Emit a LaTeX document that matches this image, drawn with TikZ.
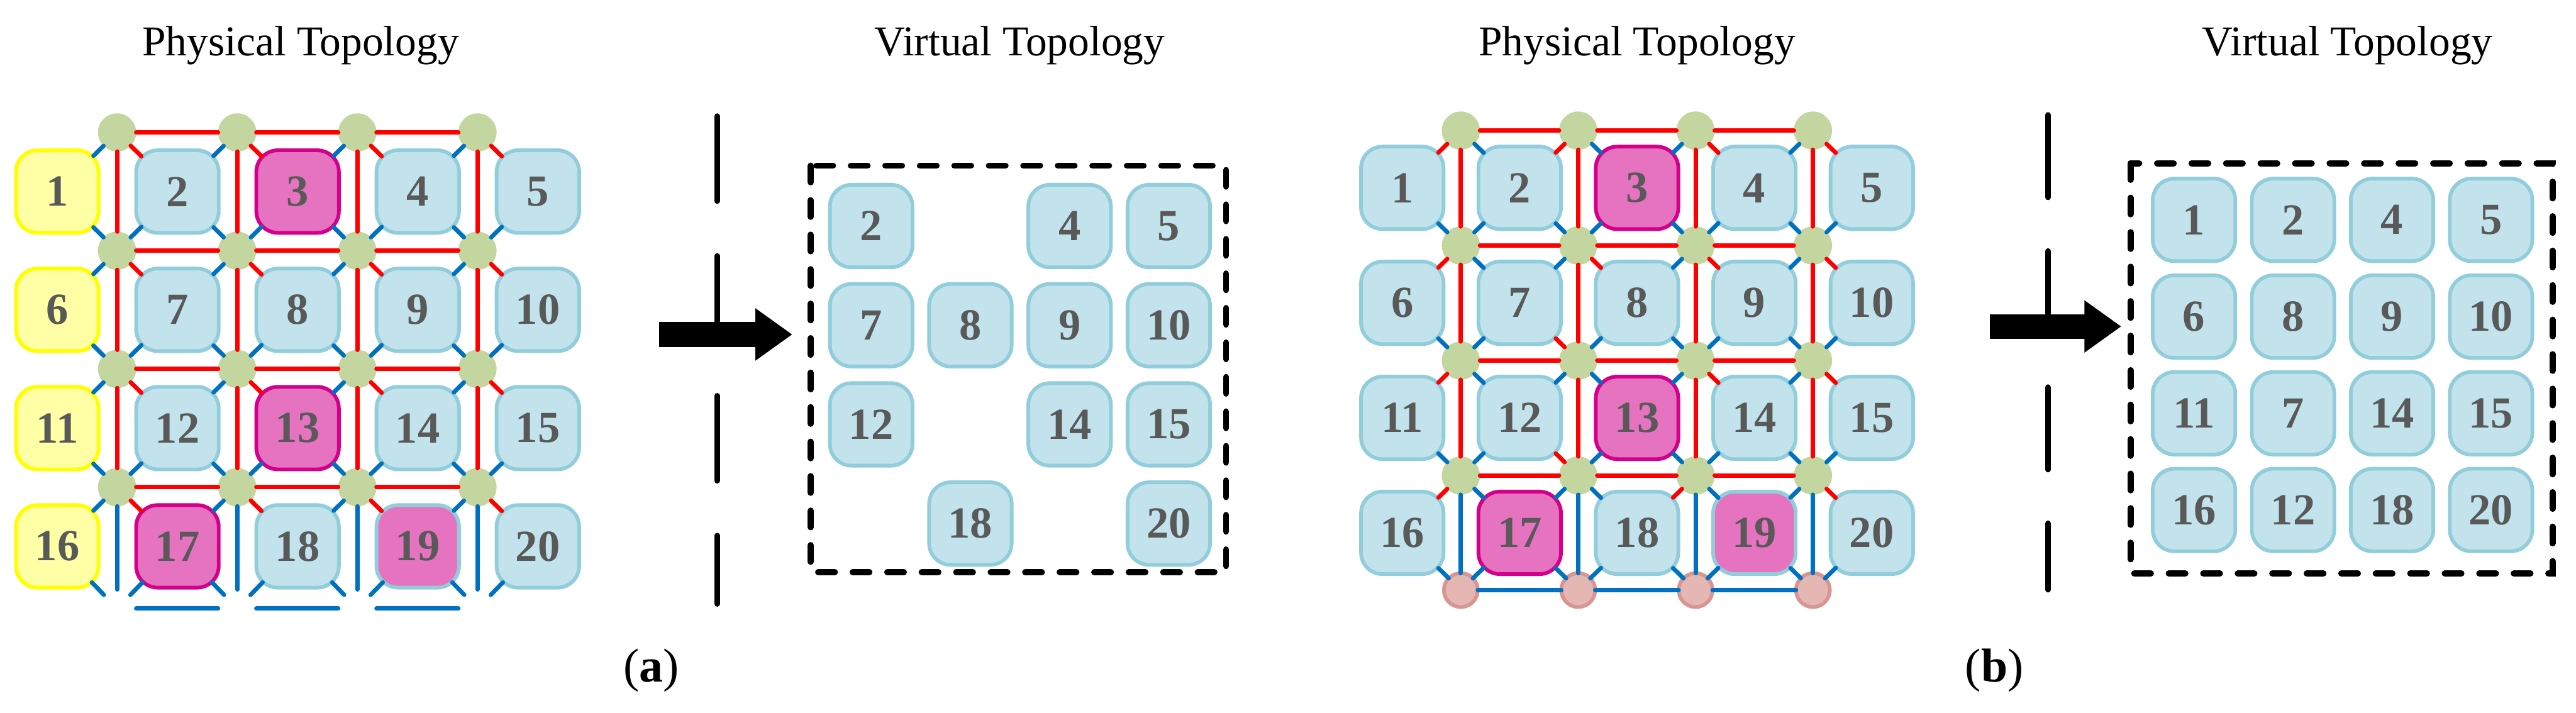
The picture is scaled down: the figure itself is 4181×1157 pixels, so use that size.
\documentclass[tikz,border=0pt]{standalone}
\usepackage{fontspec}
\setmainfont{Liberation Serif}
\usepackage{tikz}
\usetikzlibrary{arrows.meta}

\definecolor{srvfill}{HTML}{C3E3EC}
\definecolor{srvline}{HTML}{92CDDC}
\definecolor{yelfill}{HTML}{FFFFA6}
\definecolor{yelline}{HTML}{FFFF00}
\definecolor{pinkfill}{HTML}{E673C0}
\definecolor{pinkline}{HTML}{D4008C}
\definecolor{swgreen}{HTML}{C4D6A0}
\definecolor{swpinkfill}{HTML}{E4B7B2}
\definecolor{swpinkline}{HTML}{D89692}
\definecolor{linkred}{HTML}{FF0000}
\definecolor{linkblue}{HTML}{0070C0}
\definecolor{numgray}{HTML}{595959}

\begin{document}
\begin{tikzpicture}[
    x=0.1mm, y=-0.1mm,
    srv/.style={rounded corners=3.5mm, minimum size=13.4mm, inner sep=0pt,
                line width=0.6mm, text=numgray,
                font=\fontsize{20.5pt}{24pt}\selectfont\bfseries},
    srvblue/.style={srv, fill=srvfill, draw=srvline},
    srvyel/.style={srv, fill=yelfill, draw=yelline},
    srvpink/.style={srv, fill=pinkfill, draw=pinkline},
    srvfail/.style={srv, fill=pinkfill, draw=srvline},
    sw/.style={circle, fill=swgreen, minimum size=6.2mm, inner sep=0pt, outer sep=0pt},
    swpink/.style={circle, fill=swpinkfill, draw=swpinkline, line width=0.6mm,
                   minimum size=5.5mm, inner sep=0pt, outer sep=0pt},
    ghost/.style={circle, minimum size=6.2mm, inner sep=0pt, outer sep=0pt},
    rlink/.style={draw=linkred, line width=0.7mm, line cap=round},
    blink/.style={draw=linkblue, line width=0.7mm, line cap=round},
    diag/.style={shorten >=-1.6mm},
    vbox/.style={line width=1mm, line cap=round, dash pattern=on 2.7mm off 2.9mm},
    bigarr/.style={line width=4mm, -{Triangle[length=6mm, width=8.1mm]}},
    title/.style={font=\fontsize{19.6pt}{23pt}\selectfont, anchor=base},
    lbl/.style={font=\fontsize{22pt}{26pt}\selectfont, anchor=base},
  ]

  \useasboundingbox (0,0) rectangle (4181,1157);

  % ── Titles ───────────────────────────────────────────────────────────────
  \node[title] (ttl-pa) at (488, 90)  {Physical Topology};
  \node[title] (ttl-va) at (1655, 90) {Virtual Topology};
  \node[title] (ttl-pb) at (2657, 90) {Physical Topology};
  \node[title] (ttl-vb) at (3810, 90) {Virtual Topology};

  % ── Panel (a): physical topology ─────────────────────────────────────────

  % servers
  \foreach \n/\st in {1/srvyel, 2/srvblue, 3/srvpink, 4/srvblue, 5/srvblue,
                      6/srvyel, 7/srvblue, 8/srvblue, 9/srvblue, 10/srvblue,
                      11/srvyel, 12/srvblue, 13/srvpink, 14/srvblue, 15/srvblue,
                      16/srvyel, 17/srvpink, 18/srvblue, 19/srvfail, 20/srvblue} {
    \pgfmathtruncatemacro\rw{(\n-1)/5}
    \pgfmathtruncatemacro\col{\n-1-5*\rw}
    \node[\st] (pa-\n) at (93+195*\col, 311+192*\rw) {\n};
  }

  % switches (bottom row missing)
  \foreach \rw in {0,...,3}
    \foreach \col in {0,...,3}
      \node[sw] (sa-\rw\col) at (190+195*\col, 215+192*\rw) {};
  \foreach \col in {0,...,3}
    \node[ghost] (sa-4\col) at (190+195*\col, 988) {};

  % switch-switch links
  \foreach \col in {0,...,3} {
    \draw[rlink] (sa-0\col) -- (sa-1\col);
    \draw[rlink] (sa-1\col) -- (sa-2\col);
    \draw[rlink] (sa-2\col) -- (sa-3\col);
    \draw[blink] (sa-3\col) -- (sa-4\col);
  }
  \foreach \rw/\lk in {0/rlink, 1/rlink, 2/rlink, 3/rlink, 4/blink}
    \foreach \col/\nx in {0/1, 1/2, 2/3}
      \draw[\lk] (sa-\rw\col) -- (sa-\rw\nx);

  % switch-server links (1 UL, 2 UR, 3 LL, 4 LR; \red = the red one)
  \foreach \rw/\red in {0/4, 1/4, 2/4, 3/4, 4/0}
    \foreach \col in {0,...,3}
      \foreach \dd/\dr/\dc in {1/-1/0, 2/-1/1, 3/0/0, 4/0/1} {
        \pgfmathtruncatemacro\sr{\rw+(\dr)}
        \pgfmathtruncatemacro\n{5*\sr+\col+\dc+1}
        \ifnum\dd=\red \def\lk{rlink}\else\def\lk{blink}\fi
        \ifnum\sr>-1 \ifnum\sr<4
          \draw[\lk, diag] (sa-\rw\col) -- (pa-\n);
        \fi\fi
      }

  % ── Panel (a): virtual topology ──────────────────────────────────────────
  \foreach \n/\col/\rw in {2/0/0, 4/2/0, 5/3/0, 7/0/1, 8/1/1, 9/2/1, 10/3/1,
                           12/0/2, 14/2/2, 15/3/2, 18/1/3, 20/3/3}
    \node[srvblue] (va-\n) at (1414+161*\col, 367+161*\rw) {\n};
  \draw[vbox] (1316,269) rectangle (1990,929);

  % separator and arrow
  \draw[line width=0.9mm, line cap=round, dash pattern=on 13.8mm off 8.9mm]
    (1164,188.5) -- (1164,980.5);
  \coordinate (arra-s) at (1070,543);
  \coordinate (arra-e) at (1286,543);
  \draw[bigarr] (arra-s) -- (arra-e);

  \node[lbl] (lbl-a) at (1057,1107) {(\textbf{a})};

  % ── Panel (b): physical topology ─────────────────────────────────────────

  % servers
  \foreach \n/\st in {1/srvblue, 2/srvblue, 3/srvpink, 4/srvblue, 5/srvblue,
                      6/srvblue, 7/srvblue, 8/srvblue, 9/srvblue, 10/srvblue,
                      11/srvblue, 12/srvblue, 13/srvpink, 14/srvblue, 15/srvblue,
                      16/srvblue, 17/srvpink, 18/srvblue, 19/srvfail, 20/srvblue} {
    \pgfmathtruncatemacro\rw{(\n-1)/5}
    \pgfmathtruncatemacro\col{\n-1-5*\rw}
    \node[\st] (pb-\n) at (2276+190.5*\col, 305+186.7*\rw) {\n};
  }

  % switches (extra bottom row)
  \foreach \rw in {0,...,3}
    \foreach \col in {0,...,3}
      \node[sw] (sb-\rw\col) at (2371+190.5*\col, 212+186.7*\rw) {};
  \foreach \col in {0,...,3}
    \node[swpink] (sb-4\col) at (2371+190.5*\col, 958) {};

  % switch-switch links
  \foreach \col in {0,...,3} {
    \draw[rlink] (sb-0\col) -- (sb-1\col);
    \draw[rlink] (sb-1\col) -- (sb-2\col);
    \draw[rlink] (sb-2\col) -- (sb-3\col);
    \draw[blink] (sb-3\col) -- (sb-4\col);
  }
  \foreach \rw/\lk in {0/rlink, 1/rlink, 2/rlink, 3/rlink, 4/blink}
    \foreach \col/\nx in {0/1, 1/2, 2/3}
      \draw[\lk] (sb-\rw\col) -- (sb-\rw\nx);

  % switch-server links
  \foreach \rw/\col/\red in {0/0/3, 0/1/3, 0/2/4, 0/3/4, 1/0/3, 1/1/4, 1/2/4, 1/3/4,
                             2/0/3, 2/1/1, 2/2/4, 2/3/4, 3/0/3, 3/1/1, 3/2/3, 3/3/4,
                             4/0/0, 4/1/0, 4/2/0, 4/3/0}
    \foreach \dd/\dr/\dc in {1/-1/0, 2/-1/1, 3/0/0, 4/0/1} {
      \pgfmathtruncatemacro\sr{\rw+(\dr)}
      \pgfmathtruncatemacro\n{5*\sr+\col+\dc+1}
      \ifnum\dd=\red \def\lk{rlink}\else\def\lk{blink}\fi
      \ifnum\sr>-1 \ifnum\sr<4
        \draw[\lk, diag] (sb-\rw\col) -- (pb-\n);
      \fi\fi
    }

  % ── Panel (b): virtual topology ──────────────────────────────────────────
  \foreach \n/\col/\rw in {1/0/0, 2/1/0, 4/2/0, 5/3/0, 6/0/1, 8/1/1, 9/2/1, 10/3/1,
                           11/0/2, 7/1/2, 14/2/2, 15/3/2, 16/0/3, 12/1/3, 18/2/3, 20/3/3}
    \node[srvblue] (vb-\n) at (3561+160.7*\col, 357+157*\rw) {\n};
  \draw[vbox] (3458,265) rectangle (4143,931);

  % separator and arrow
  \draw[line width=0.9mm, line cap=round, dash pattern=on 13.4mm off 8.7mm]
    (3324,186.5) -- (3324,957.5);
  \coordinate (arrb-s) at (3230,530);
  \coordinate (arrb-e) at (3443,530);
  \draw[bigarr] (arrb-s) -- (arrb-e);

  \node[lbl] (lbl-b) at (3237,1107) {(\textbf{b})};

\end{tikzpicture}
\end{document}
